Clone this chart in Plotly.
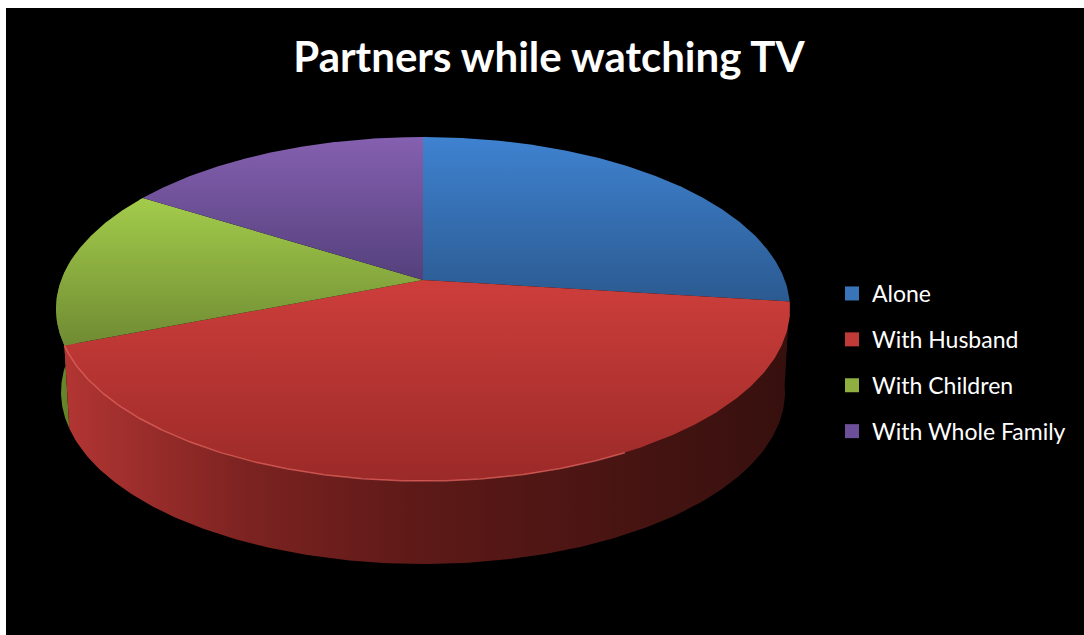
import numpy as np
import plotly.graph_objects as go

# Data
categories = ["Alone", "With Husband", "With Children", "With Whole Family"]
values = [27, 42, 15, 16]
title_text = "Partners while watching TV"

# Style (bottom colour first: the vertical gradient runs up the page)
face_scales = [
    ["#2b5a90", "#3f82d0"],
    ["#9b2a28", "#cd3e3b"],
    ["#6f8b33", "#a3cc4b"],
    ["#54407c", "#8560b0"],
]
legend_colors = ["#3a74b8", "#c03a38", "#8fb040", "#6c4f98"]
red_side = [[0, "#b23533"], [0.25, "#7c2321"], [0.5, "#5c1917"], [1, "#36100e"]]
green_side = [[0, "#6f8f30"], [1, "#55701f"]]

# Projection of the tilted pie, in page pixels
CX, CY, RX, RY = 423, 309, 367, 172
APEX_Y = 280
BOTTOM_CY, BOTTOM_RX, BOTTOM_RY = 392, 362, 172
a = (APEX_Y - CY) / RY


def unit_rim(theta):
    """Clockwise angle from 12 o'clock on the true circle -> unit ellipse coords."""
    u0, v0 = np.sin(theta), -np.cos(theta)
    d = 1 + a * v0
    return u0 * np.sqrt(1 - a * a) / d, (v0 + a) / d


def top_pts(theta):
    u, v = unit_rim(theta)
    return CX + RX * u, CY + RY * v


def low_pts(theta):
    u, v = unit_rim(theta)
    return CX + BOTTOM_RX * u, BOTTOM_CY + BOTTOM_RY * v


edges = np.cumsum([0] + values) / sum(values) * 2 * np.pi
fig = go.Figure()


def side(t0, t1, scale):
    th = np.linspace(t0, t1, 200)
    xt, yt = top_pts(th)
    xl, yl = low_pts(th[::-1])
    fig.add_trace(go.Scatter(
        x=np.r_[xt, xl], y=np.r_[yt, yl], mode="lines", fill="toself",
        line=dict(width=0), hoverinfo="skip", showlegend=False,
        fillgradient=dict(type="horizontal", colorscale=scale)))


# angle on the true circle for the leftmost silhouette point (u = -1)
left_theta = 2 * np.pi - np.arccos(-a)
side(edges[2], left_theta, green_side)
side(edges[1], edges[2], red_side)

for i in range(len(values)):
    th = np.linspace(edges[i], edges[i + 1], 200)
    xr, yr = top_pts(th)
    fig.add_trace(go.Scatter(
        x=np.r_[CX, xr, CX], y=np.r_[APEX_Y, yr, APEX_Y], mode="lines", fill="toself",
        line=dict(width=0), hoverinfo="skip", showlegend=False,
        fillgradient=dict(type="vertical",
                          colorscale=[[0, face_scales[i][0]], [1, face_scales[i][1]]])))

# Rim highlight on the front edge
th = np.linspace(edges[1] + 0.95, edges[2], 150)
xr, yr = top_pts(th)
fig.add_trace(go.Scatter(x=xr, y=yr, mode="lines", hoverinfo="skip", showlegend=False,
                         line=dict(color="rgba(235,105,100,0.7)", width=1.5)))

# Legend entries
for name, color in zip(categories, legend_colors):
    fig.add_trace(go.Scatter(
        x=[None], y=[None], mode="markers", name=name, legendgroup=name,
        marker=dict(symbol="square", size=14, color=color)))

fig.update_layout(
    width=1084, height=635,
    margin=dict(l=6, r=0, t=8, b=0),
    paper_bgcolor="white", plot_bgcolor="black",
    font=dict(family="Lato", color="white"),
    title=dict(text=f"<b>{title_text}</b>", x=549 / 1084, xanchor="center",
               y=1 - 57 / 635, yanchor="middle", font=dict(family="Lato", size=42, color="white")),
    xaxis=dict(visible=False, range=[6, 1084], fixedrange=True),
    yaxis=dict(visible=False, range=[635, 8], fixedrange=True),
    legend=dict(x=(832 - 6) / 1078, xanchor="left", y=1 - (272 - 8) / 627, yanchor="top",
                bgcolor="rgba(0,0,0,0)", tracegroupgap=13, itemwidth=30,
                font=dict(family="Lato", size=23, color="white")),
)

fig.write_html("out.html", post_script="document.body.style.margin='0';",
               config={"displayModeBar": False})
